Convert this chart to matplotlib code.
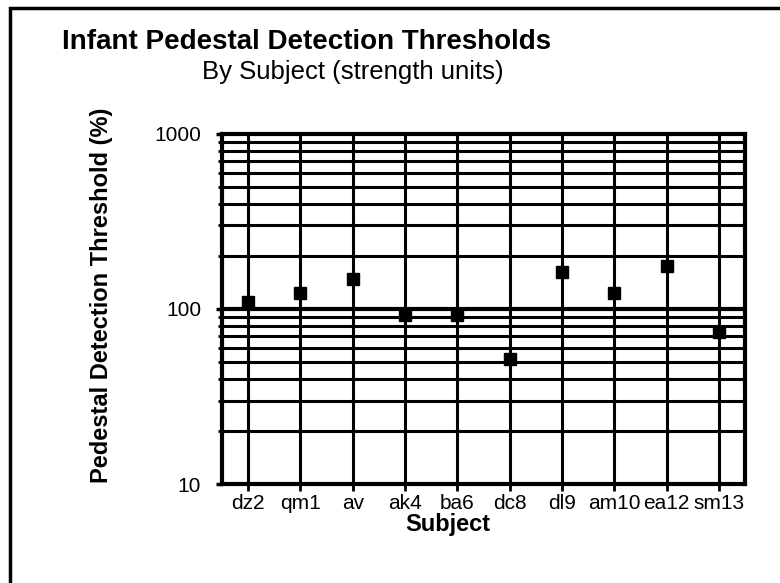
import matplotlib

matplotlib.use("Agg")
import matplotlib.pyplot as plt
from matplotlib.patches import Rectangle
from matplotlib.ticker import FixedLocator, NullFormatter

plt.rcParams["font.family"] = ["Liberation Sans", "DejaVu Sans"]

subjects = ["dz2", "qm1", "av", "ak4", "ba6", "dc8", "dl9", "am10", "ea12", "sm13"]
thresholds = [110, 123, 148, 93, 93, 52, 163, 124, 176, 74]

y_major = [10, 100, 1000]
y_minor = [20, 30, 40, 50, 60, 70, 80, 90, 200, 300, 400, 500, 600, 700, 800, 900]

fig = plt.figure(figsize=(7.8, 5.83), dpi=100)
ax = fig.add_axes([0.2846, 0.1698, 0.6705, 0.6004])

x = list(range(len(subjects)))
ax.set_yscale("log")
ax.set_ylim(10, 1000)
ax.set_xlim(-0.5, len(subjects) - 0.5)

# heavy grid, like the scanned original
for v in y_minor:
    ax.axhline(v, color="black", linewidth=2.2, zorder=1)
for v in y_major[1:-1]:
    ax.axhline(v, color="black", linewidth=3.0, zorder=1)
for xi in x:
    ax.axvline(xi, color="black", linewidth=2.2, zorder=1)

ax.plot(x, thresholds, linestyle="none", marker="s", markersize=8.5,
        color="black", zorder=3)

ax.yaxis.set_major_locator(FixedLocator(y_major))
ax.yaxis.set_minor_locator(FixedLocator(y_minor))
ax.yaxis.set_minor_formatter(NullFormatter())
ax.set_yticklabels([str(v) for v in y_major])
ax.set_xticks(x)
ax.set_xticklabels(subjects)
ax.tick_params(axis="y", which="major", direction="out", length=4, width=2.5,
               labelsize=15, pad=11)
ax.tick_params(axis="y", which="minor", direction="out", length=3, width=2)
ax.tick_params(axis="x", direction="out", length=5, width=2, labelsize=15, pad=2)

for side in ["left", "bottom", "right", "top"]:
    ax.spines[side].set_linewidth(3.0)

ax.set_xlabel("Subject", fontsize=17, fontweight="bold", va="top")
ax.xaxis.set_label_coords(0.432, -0.083)

fig.text(0.1295, 0.494, "Pedestal Detection Threshold (%)", fontsize=17,
         fontweight="bold", rotation=90, ha="center", va="center")

fig.text(0.079, 1 - 49 / 583, "Infant Pedestal Detection Thresholds", fontsize=20,
         fontweight="bold", ha="left", va="baseline")
fig.text(0.259, 1 - 79 / 583, "By Subject (strength units)", fontsize=18.5,
         ha="left", va="baseline")

# page frame (only top and left edges are inside the picture)
fig.patches.append(Rectangle((0.013, -0.05), 1.1, 1.036, transform=fig.transFigure,
                             fill=False, edgecolor="black", linewidth=2.5))

fig.savefig("out.png", dpi=100)
